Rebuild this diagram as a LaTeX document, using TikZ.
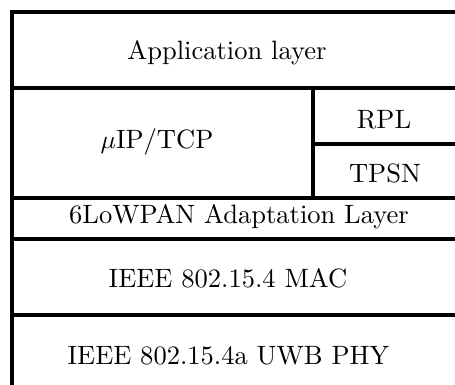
\documentclass[tikz,border=0pt]{standalone}
\begin{document}
\begin{tikzpicture}[x=0.39pt,y=-0.39pt,
  rule/.style={line width=1.2pt},
  lbl/.style={anchor=base,inner sep=0pt,font=\fontsize{10.35}{12.4}\selectfont}]
\useasboundingbox (0,0) rectangle (455,385);
% frame lines
\draw[rule] (12,10.5) -- (12,385);
\draw[rule] (10.5,12) -- (455,12);
\draw[rule] (12,88) -- (455,88);
\draw[rule] (313,88) -- (313,198);
\draw[rule] (313,144) -- (455,144);
\draw[rule] (12,198) -- (455,198);
\draw[rule] (12,239) -- (455,239);
\draw[rule] (12,315) -- (455,315);
% labels
\node[lbl] (app) at (227,59.5) {Application layer};
\node[lbl] (ip) at (157,148) {$\mu$IP/TCP};
\node[lbl] (rpl) at (384,128) {RPL};
\node[lbl] (tpsn) at (385,182) {TPSN};
\node[lbl] (lowpan) at (239,223) {6LoWPAN Adaptation Layer};
\node[lbl] (mac) at (228,287) {IEEE 802.15.4 MAC};
\node[lbl] (phy) at (228.5,364) {IEEE 802.15.4a UWB PHY};
\end{tikzpicture}
\end{document}
